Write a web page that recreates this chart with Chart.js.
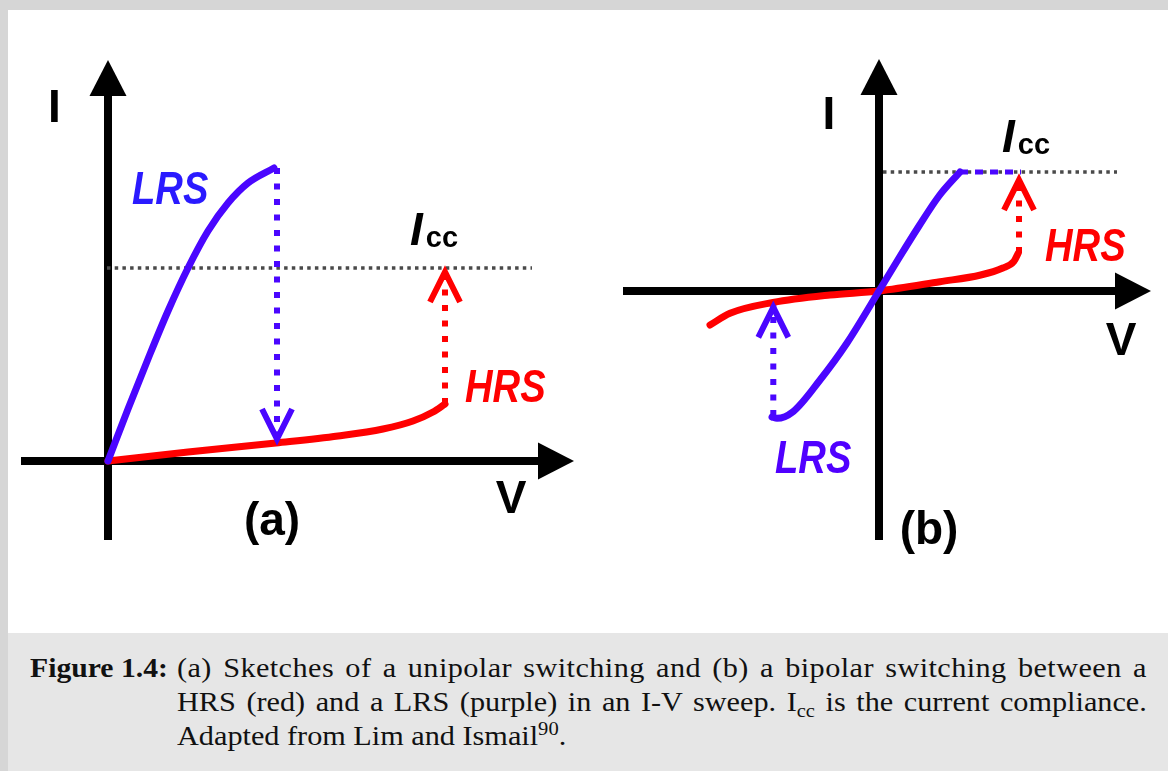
<!DOCTYPE html>
<html>
<head>
<meta charset="utf-8">
<script src="https://cdn.jsdelivr.net/npm/chart.js@4.4.1/dist/chart.umd.min.js"></script>
<style>
  body { margin: 0; width: 1168px; height: 771px; overflow: hidden; position: relative; background: #d6d6d6; }
  #sheet { position: absolute; left: 8px; top: 10px; width: 1160px; height: 623px; background: #fff; }
  #panelA { position: absolute; left: 8px; top: 10px; }
  #panelB { position: absolute; left: 584px; top: 10px; }
  #caption { position: absolute; left: 8px; top: 633px; width: 1160px; height: 138px; background: #e6e6e6;
             font-family: "Liberation Serif", serif; font-size: 28px; color: #111; }
  #caption .tag { position: absolute; left: 22px; top: 18px; line-height: 34px; font-weight: bold;
                  transform: scaleX(1.06); transform-origin: 0 0; white-space: nowrap; }
  /* rows are laid out narrow, then widened to the 970px text column */
  #caption .text { position: absolute; left: 169px; top: 18px; width: 898px; line-height: 34px;
                   transform: scaleX(1.08); transform-origin: 0 0; }
  #caption .row { text-align: justify; text-align-last: justify; }
  #caption .row.first { letter-spacing: 0.4px; }
  #caption .row.last { text-align-last: left; }
  #caption sub, #caption sup { font-size: 68%; line-height: 0; position: relative; vertical-align: baseline; }
  #caption sub { top: 0.3em; }
  #caption sup { top: -0.55em; }
</style>
</head>
<body>
<div id="sheet"></div>
<canvas id="panelA" width="576" height="623"></canvas>
<canvas id="panelB" width="584" height="623"></canvas>
<div id="caption">
  <div class="tag">Figure 1.4:</div>
  <div class="text">
    <div class="row first">(a) Sketches of a unipolar switching and (b) a bipolar switching between a</div>
    <div class="row">HRS (red) and a LRS (purple) in an I-V sweep. I<sub>cc</sub> is the current compliance.</div>
    <div class="row last">Adapted from Lim and Ismail<sup>90</sup>.</div>
  </div>
</div>
<script>
// text drawn on the sketches
const axisNames = ["I", "V"];
const stateNames = ["LRS", "HRS"];
const panelTags = ["(a)", "(b)"];
const complianceName = ["I", "cc"];

// (a) unipolar switching, arbitrary units
const aLrsV = [0, 0.2, 0.4, 0.6, 0.8, 1.0, 1.2, 1.4, 1.66];
const aLrsI = [0, 0.52, 1.02, 1.50, 1.93, 2.30, 2.58, 2.78, 2.93];
const aHrsV = [0, 0.8, 1.68, 2.3, 2.75, 3.05, 3.25, 3.37];
const aHrsI = [0, 0.09, 0.18, 0.25, 0.32, 0.40, 0.49, 0.57];
const aIcc = 1.93;
const aIccSpan = [-0.01, 4.24];
const aResetV = 1.69;          // LRS -> HRS drop
const aResetI = [2.93, 0.18];
const aSetV = 3.37;            // HRS -> compliance jump
const aSetI = [0.57, 1.93];
const aAxisV = [-0.87, 4.30];
const aAxisI = [-0.79, 3.65];

// (b) bipolar switching
const bLrsV = [-1.07, -1.02, -0.86, -0.59, -0.32, 0, 0.2, 0.4, 0.6, 0.81];
const bLrsI = [-1.26, -1.273, -1.207, -0.89, -0.52, 0, 0.33, 0.65, 0.95, 1.19];
const bHrsV = [-1.69, -1.49, -1.06, -0.49, 0, 0.61, 1.017, 1.238, 1.349, 1.393];
const bHrsI = [-0.34, -0.223, -0.115, -0.04, 0, 0.093, 0.16, 0.23, 0.296, 0.38];
const bIcc = 1.19;
const bIccSpan = [0.04, 2.38];
const bClampV = [0.81, 1.42];  // LRS held at compliance
const bResetV = -1.057;
const bResetI = [-1.25, -0.123];
const bSetV = 1.40;
const bSetI = [0.38, 1.15];
const bAxisV = [-2.56, 2.36];
const bAxisI = [-2.49, 1.96];

const RED = "#ff0000";
const BLUE = "#4a06ff";

function pts(xs, ys) {
  return xs.map((x, i) => ({ x, y: ys[i] }));
}

function curve(data, color) {
  return { data, borderColor: color, borderWidth: 7, showLine: true, pointRadius: 0,
           cubicInterpolationMode: "monotone", borderCapStyle: "round", clip: false };
}

function dotted(data, color, width, dash, head) {
  return { data, borderColor: color, borderWidth: width, borderDash: dash, showLine: true,
           pointRadius: 0, borderCapStyle: "butt", clip: false, head };
}

function axis(data) {
  return { data, borderColor: "#000", borderWidth: 8, showLine: true, pointRadius: 0,
           borderCapStyle: "butt", clip: false, head: "solid" };
}

// arrow heads on the ends of lines, and the labels
const sketchPlugin = {
  id: "sketch",
  afterDatasetsDraw(chart, args, opts) {
    const { ctx } = chart;
    const sx = chart.scales.x, sy = chart.scales.y;
    chart.data.datasets.forEach((ds) => {
      if (!ds.head) return;
      const p = ds.data[ds.data.length - 2], q = ds.data[ds.data.length - 1];
      const x0 = sx.getPixelForValue(p.x), y0 = sy.getPixelForValue(p.y);
      const x1 = sx.getPixelForValue(q.x), y1 = sy.getPixelForValue(q.y);
      const d = Math.hypot(x1 - x0, y1 - y0);
      const ux = (x1 - x0) / d, uy = (y1 - y0) / d;
      ctx.save();
      if (ds.head === "solid") {
        ctx.fillStyle = ds.borderColor;
        ctx.beginPath();
        ctx.moveTo(x1 + ux * 36, y1 + uy * 36);
        ctx.lineTo(x1 - uy * 18.5, y1 + ux * 18.5);
        ctx.lineTo(x1 + uy * 18.5, y1 - ux * 18.5);
        ctx.closePath();
        ctx.fill();
      } else {
        // open chevron, its point sitting on the end of the dotted line
        const tx = x1 - ux * 4, ty = y1 - uy * 4;
        ctx.strokeStyle = ds.borderColor;
        ctx.lineWidth = 6;
        ctx.lineJoin = "miter";
        ctx.beginPath();
        ctx.moveTo(tx - ux * 30 - uy * 15, ty - uy * 30 + ux * 15);
        ctx.lineTo(tx, ty);
        ctx.lineTo(tx - ux * 30 + uy * 15, ty - uy * 30 - ux * 15);
        ctx.stroke();
      }
      ctx.restore();
    });

    opts.labels.forEach((l) => {
      const px = sx.getPixelForValue(l.x), py = sy.getPixelForValue(l.y);
      ctx.save();
      ctx.translate(px, py);
      ctx.scale(l.squeeze || 1, 1);
      ctx.fillStyle = l.color || "#000";
      ctx.font = l.font;
      ctx.textAlign = l.align || "left";
      ctx.textBaseline = "alphabetic";
      ctx.fillText(l.text, 0, 0);
      if (l.sub) {
        const w = ctx.measureText(l.text).width;
        ctx.font = "bold 29px 'Liberation Sans'";
        ctx.fillText(l.sub, w + 3, 2);
      }
      ctx.restore();
    });
  },
};

const upright = "bold 46px 'Liberation Sans'";
const slanted = "bold italic 46px 'Liberation Sans'";

function panel(id, xRange, yRange, datasets, labels) {
  return new Chart(document.getElementById(id), {
    type: "scatter",
    data: { datasets },
    options: {
      responsive: false,
      animation: false,
      events: [],
      layout: { padding: 0 },
      plugins: { legend: { display: false }, tooltip: { enabled: false }, sketch: { labels } },
      scales: {
        x: { type: "linear", display: false, min: xRange[0], max: xRange[1] },
        y: { type: "linear", display: false, min: yRange[0], max: yRange[1] },
      },
    },
    plugins: [sketchPlugin],
  });
}

panel("panelA", [-1.0, 4.76], [-1.72, 4.51], [
  curve(pts(aLrsV, aLrsI), BLUE),
  curve(pts(aHrsV, aHrsI), RED),
  dotted(pts([aResetV, aResetV], aResetI), BLUE, 6, [6, 9.5], "open"),
  dotted(pts([aSetV, aSetV], aSetI), RED, 6, [6, 9.5], "open"),
  dotted(pts(aIccSpan, [aIcc, aIcc]), "#4a4a4a", 3.5, [3.5, 4.2]),
  axis(pts(aAxisV, [0, 0])),
  axis(pts([0, 0], aAxisI)),
], [
  { text: axisNames[0], x: -0.535, y: 3.39, font: upright, align: "center" },
  { text: axisNames[1], x: 4.03, y: -0.52, font: upright, align: "center" },
  { text: panelTags[0], x: 1.64, y: -0.74, font: upright, align: "center" },
  { text: stateNames[0], x: 0.24, y: 2.57, font: slanted, color: "#2a1aff", squeeze: 0.83 },
  { text: stateNames[1], x: 3.57, y: 0.59, font: slanted, color: RED, squeeze: 0.83 },
  { text: complianceName[0], x: 3.02, y: 2.16, font: slanted, sub: complianceName[1] },
]);

panel("panelB", [-2.95, 2.89], [-3.42, 2.81], [
  curve(pts(bLrsV, bLrsI), BLUE),
  curve(pts(bHrsV, bHrsI), RED),
  dotted(pts(bClampV, [bIcc, bIcc]), BLUE, 5, [8, 7]),
  dotted(pts([bResetV, bResetV], bResetI), BLUE, 6, [6, 9.5], "open"),
  dotted(pts([bSetV, bSetV], bSetI), RED, 6, [6, 9.5], "open"),
  dotted(pts(bIccSpan, [bIcc, bIcc]), "#4a4a4a", 3.5, [3.5, 4.2]),
  axis(pts(bAxisV, [0, 0])),
  axis(pts([0, 0], bAxisI)),
], [
  { text: axisNames[0], x: -0.50, y: 1.62, font: upright, align: "center" },
  { text: axisNames[1], x: 2.42, y: -0.64, font: upright, align: "center" },
  { text: panelTags[1], x: 0.50, y: -2.53, font: upright, align: "center" },
  { text: stateNames[0], x: -1.04, y: -1.82, font: slanted, color: "#5000ff", squeeze: 0.83 },
  { text: stateNames[1], x: 1.66, y: 0.30, font: slanted, color: RED, squeeze: 0.83 },
  { text: complianceName[0], x: 1.23, y: 1.39, font: slanted, sub: complianceName[1] },
]);
</script>
</body>
</html>
